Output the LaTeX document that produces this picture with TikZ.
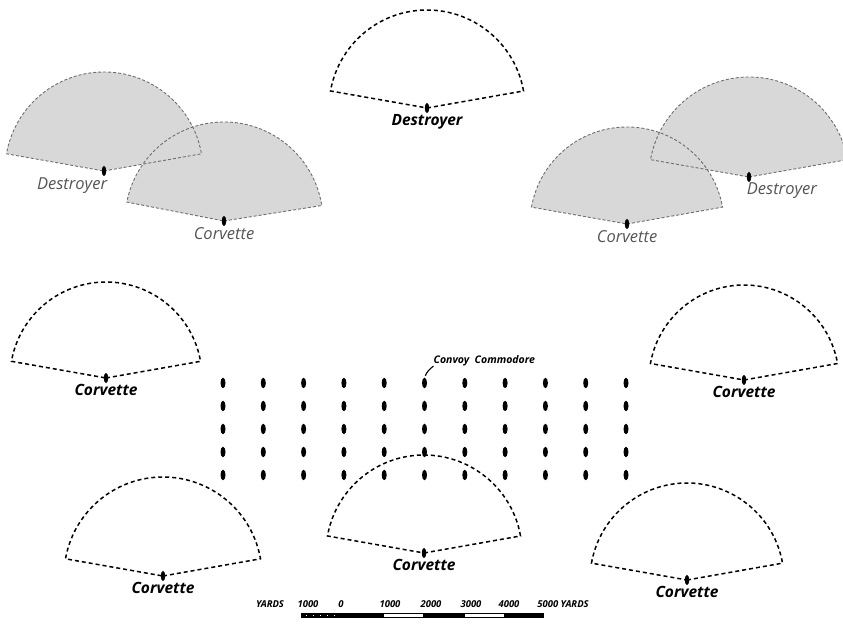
\documentclass[tikz,border=0pt]{standalone}
\usepackage{fontspec}
\setsansfont{Open Sans}
\usepackage{tikz}
\usetikzlibrary{shapes.geometric,positioning}
\definecolor{shadegray}{RGB}{216,216,216}
\definecolor{rimgray}{RGB}{110,110,110}
\definecolor{labelgray}{RGB}{85,85,85}

\begin{document}
\begin{tikzpicture}[x=1pt, y=1pt,
        ship/.style={ellipse, fill=black, inner sep=0pt, minimum width=4.5pt, minimum height=10pt},
        shiplabel/.style={font=\sffamily\itshape\bfseries\fontsize{15.5}{15.5}\selectfont, inner sep=1pt},
        greylabel/.style={font=\sffamily\itshape\fontsize{16.5}{16.5}\selectfont, text=labelgray, inner sep=1pt},
        commlabel/.style={font=\sffamily\itshape\bfseries\fontsize{10.5}{10.5}\selectfont, inner sep=0pt},
        scalelabel/.style={font=\sffamily\itshape\bfseries\fontsize{9.5}{9.5}\selectfont, inner sep=0pt},
        sector/.style={draw=black, line width=1.5pt, dash pattern=on 4pt off 3pt},
        shaded/.style={draw=rimgray, line width=0.9pt, dash pattern=on 3pt off 2pt}
    ]
    \useasboundingbox (0,0) rectangle (843,631);

    % shaded pairs of sweep sectors
    \coordinate (dLpos) at (104,460);
    \coordinate (cLpos) at (224,410);
    \coordinate (cRpos) at (627,407);
    \coordinate (dRpos) at (749,454);
    \fill[shadegray] (dLpos) -- ++(10:99) arc[start angle=10, end angle=170, radius=99] -- cycle;
    \fill[shadegray] (cLpos) -- ++(9:99) arc[start angle=9, end angle=169, radius=99] -- cycle;
    \fill[shadegray] (dRpos) -- ++(10:100) arc[start angle=10, end angle=170, radius=100] -- cycle;
    \fill[shadegray] (cRpos) -- ++(10:97) arc[start angle=10, end angle=170, radius=97] -- cycle;
    \draw[shaded] (dLpos) -- ++(10:99) arc[start angle=10, end angle=170, radius=99] -- cycle;
    \draw[shaded] (cLpos) -- ++(9:99) arc[start angle=9, end angle=169, radius=99] -- cycle;
    \draw[shaded] (dRpos) -- ++(10:100) arc[start angle=10, end angle=170, radius=100] -- cycle;
    \draw[shaded] (cRpos) -- ++(10:97) arc[start angle=10, end angle=170, radius=97] -- cycle;
    \node[ship] (dL) at (dLpos) {};
    \node[ship] (cL) at (cLpos) {};
    \node[ship] (cR) at (cRpos) {};
    \node[ship] (dR) at (dRpos) {};
    \node[greylabel, below left=2pt and -6pt of dL] (dLlab) {Destroyer};
    \node[greylabel, below=0pt of cL] (cLlab) {Corvette};
    \node[greylabel, below=0pt of cR] (cRlab) {Corvette};
    \node[greylabel, below right=1pt and -5pt of dR] (dRlab) {Destroyer};

    % open sweep sectors
    \foreach \name/\x/\y/\r in {dTop/427/523/98, cMidL/106/253/96, cMidR/744/251/95,
                               cBotL/163/55/99, cBotM/424/78/98, cBotR/687/51/97}{
        \draw[sector] (\x,\y) -- ++(10:\r) arc[start angle=10, end angle=170, radius=\r] -- cycle;
        \node[ship] (\name) at (\x,\y) {};
    }
    \node[shiplabel, below=0pt of dTop] (dToplab) {Destroyer};
    \node[shiplabel, below=0pt of cMidL] (cMidLlab) {Corvette};
    \node[shiplabel, below=0pt of cMidR] (cMidRlab) {Corvette};
    \node[shiplabel, below=0pt of cBotL] (cBotLlab) {Corvette};
    \node[shiplabel, below=0pt of cBotM] (cBotMlab) {Corvette};
    \node[shiplabel, below=0pt of cBotR] (cBotRlab) {Corvette};

    % convoy, 11 columns of 5 ships
    \foreach \col in {0,...,10}
        \foreach \row in {0,...,4}
            \node[ship, minimum width=5pt, minimum height=10.5pt] (conv-\col-\row) at ({223+40.3*\col},{248-23*\row}) {};
    \node[commlabel, above right=13pt and 7pt of conv-5-0] (commlab) {Convoy\ \ Commodore};
    \draw[line width=1.1pt, shorten <=2pt] (conv-5-0.north) to[bend left=15] (commlab.south west);

    % scale of yards
    \fill (301,13) rectangle (383,17.5);
    \foreach \t in {306,313,...,338}
        \fill[white] (\t,14.9) rectangle ++(1.4,0.8);
    \draw[line width=0.8pt, fill=white] (383,13.4) rectangle (423,17.1);
    \fill (423,13) rectangle (464,17.5);
    \draw[line width=0.8pt, fill=white] (464,13.4) rectangle (504,17.1);
    \fill (504,13) rectangle (544,17.5);
    \node[scalelabel] (syards) at (270,27) {YARDS};
    \node[scalelabel] (s-1000) at (308,27) {1000};
    \node[scalelabel] (s0) at (341,27) {0};
    \node[scalelabel] (s1000) at (390,27) {1000};
    \node[scalelabel] (s2000) at (431,27) {2000};
    \node[scalelabel] (s3000) at (471,27) {3000};
    \node[scalelabel] (s4000) at (509,27) {4000};
    \node[scalelabel] (s5000) at (563,27) {5000 YARDS};
\end{tikzpicture}
\end{document}
